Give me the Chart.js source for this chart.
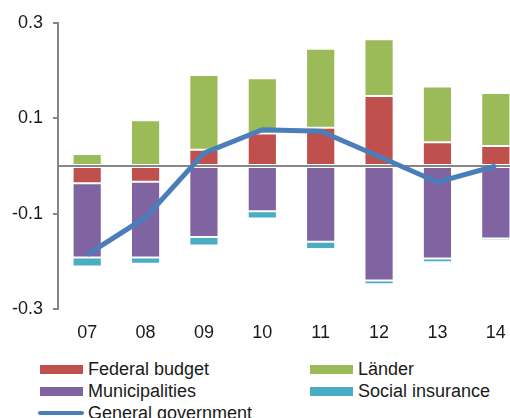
<!DOCTYPE html>
<html>
<head>
<meta charset="utf-8">
<script src="https://cdn.jsdelivr.net/npm/chart.js@4"></script>
<style>
  html, body { margin: 0; padding: 0; background: #fff; overflow: hidden; width: 510px; height: 418px; }
  #wrap { position: relative; width: 510px; height: 418px; overflow: hidden; }
  #chart { position: absolute; left: 0; top: 0; }
  .leg { position: absolute; font-family: 'Liberation Sans', Arial, sans-serif; font-size: 18px; color: #1a1a1a; white-space: nowrap; }
  .leg .sw { position: absolute; left: 0; width: 43px; height: 9px; }
  .leg .tx { position: absolute; left: 48px; line-height: 20px; }
</style>
</head>
<body>
<div id="wrap">
  <canvas id="chart" width="525" height="345"></canvas>
  <div id="legend"></div>
</div>
<script>
// ── Budget balance contributions by level of government ──────────────
const years = ['07', '08', '09', '10', '11', '12', '13', '14'];
const federalBudget   = [-0.036, -0.033, 0.034, 0.068, 0.080, 0.147, 0.050, 0.042];
const laender         = [0.025, 0.096, 0.157, 0.116, 0.166, 0.119, 0.117, 0.111];
const municipalities  = [-0.156, -0.159, -0.149, -0.095, -0.159, -0.240, -0.194, -0.152];
const socialInsurance = [-0.019, -0.013, -0.018, -0.015, -0.015, -0.008, -0.008, -0.005];
const generalGov      = [-0.186, -0.108, 0.027, 0.076, 0.073, 0.020, -0.034, 0.000];
const yTicks          = [-0.3, -0.1, 0, 0.1, 0.3];

const COLORS = {
    federal: '#C0504D',
    laender: '#9BBB59',
    muni: '#8064A2',
    social: '#4BACC6',
    line: '#4A7EBB',
    axis: '#868686'
};
const FONT = { family: "'Liberation Sans', Arial, sans-serif", size: 18 };

function barSet(label, data, color) {
    return {
        type: 'bar',
        label,
        data,
        backgroundColor: color,
        borderColor: 'rgba(255,255,255,0.45)',
        borderWidth: 1,
        borderSkipped: false,
        categoryPercentage: 1,
        barPercentage: 0.5,
        stack: 'levels',
        order: 1
    };
}

const isZero = v => Math.abs(v) < 1e-9;

new Chart(document.getElementById('chart'), {
    data: {
        labels: years,
        datasets: [
            barSet('Federal budget', federalBudget, COLORS.federal),
            barSet('Länder', laender, COLORS.laender),
            barSet('Municipalities', municipalities, COLORS.muni),
            barSet('Social insurance', socialInsurance, COLORS.social),
            {
                type: 'line',
                label: 'General government',
                data: generalGov,
                borderColor: COLORS.line,
                borderWidth: 5,
                pointRadius: 0,
                tension: 0,
                fill: false,
                stack: 'total',
                order: 0
            }
        ]
    },
    options: {
        responsive: false,
        animation: false,
        layout: { padding: { top: 23, right: 0, left: 0, bottom: 0 } },
        plugins: {
            legend: { display: false },
            tooltip: { enabled: false }
        },
        scales: {
            x: {
                stacked: true,
                offset: true,
                grid: { display: false, drawTicks: false },
                border: { display: false },
                ticks: { font: FONT, color: '#1a1a1a', padding: 13, maxRotation: 0 },
                afterFit: s => { s.height = 36; }
            },
            y: {
                stacked: true,
                min: -0.3,
                max: 0.3,
                // zero gets a tick only so its grid line can serve as the baseline
                afterBuildTicks: s => {
                    s.ticks = yTicks.map(v => ({ value: v }));
                },
                afterFit: s => { s.width = 58; s.paddingTop = 0; s.paddingBottom = 0; },
                ticks: {
                    font: FONT,
                    color: '#1a1a1a',
                    padding: 10,
                    callback: v => (isZero(v) ? '' : v.toFixed(1))
                },
                grid: {
                    color: c => (c.tick && isZero(c.tick.value) ? COLORS.axis : 'rgba(0,0,0,0)'),
                    tickColor: c => (c.tick && isZero(c.tick.value) ? 'rgba(0,0,0,0)' : COLORS.axis),
                    lineWidth: 2,
                    tickLength: 5,
                    drawOnChartArea: true
                },
                border: { display: true, color: COLORS.axis, width: 2 }
            }
        }
    }
});

// legend rows drawn as html below the plot
const legendItems = [
    { label: 'Federal budget', color: COLORS.federal, x: 40, y: 365 },
    { label: 'Länder', color: COLORS.laender, x: 310, y: 365 },
    { label: 'Municipalities', color: COLORS.muni, x: 40, y: 387 },
    { label: 'Social insurance', color: COLORS.social, x: 310, y: 387 },
    { label: 'General government', color: COLORS.line, x: 40, y: 409, line: true }
];
document.getElementById('legend').innerHTML = legendItems.map(it => {
    const sw = it.line
        ? `<div class="sw" style="background:${it.color};height:4px;top:2px;left:-2px;width:46px;border-radius:2px;"></div>`
        : `<div class="sw" style="background:${it.color};top:0;"></div>`;
    return `<div class="leg" style="left:${it.x}px;top:${it.y}px;">${sw}<div class="tx" style="top:-6px;">${it.label}</div></div>`;
}).join('');
</script>
</body>
</html>
